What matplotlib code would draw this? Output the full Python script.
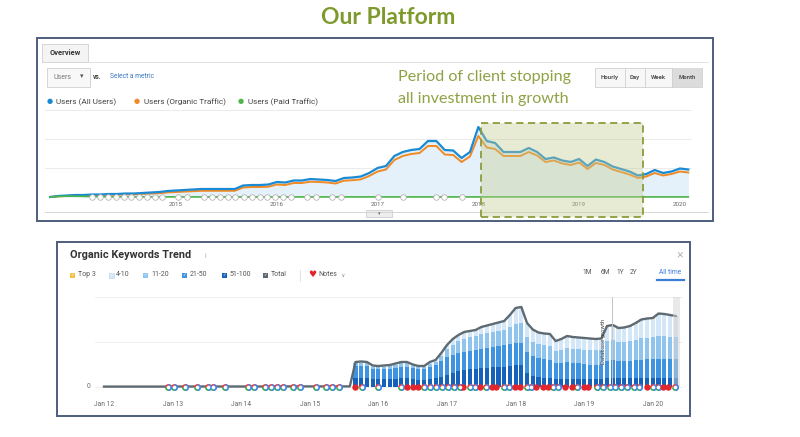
import numpy as np
import pandas as pd
import matplotlib
matplotlib.use("Agg")
import matplotlib.pyplot as plt
from matplotlib.patches import Rectangle
from matplotlib.lines import Line2D

plt.rcParams['font.family'] = ['Roboto', 'DejaVu Sans']

# ---------------- top panel: Google Analytics users (monthly) ----------------
ga_months = pd.date_range("2013-10-01", "2020-02-01", freq="MS")
users_all = [0, 100, 150,
             200, 200, 250, 250, 300, 300, 350, 350, 400, 450, 500, 600,
             650, 700, 750, 800, 800, 800, 800, 800, 1150, 1200, 1200, 1250,
             1500, 1450, 1650, 1650, 1800, 1750, 1700, 1600, 1900, 1950, 2050, 2400,
             2900, 3100, 4100, 4500, 4700, 4800, 5600, 5600, 4700, 4650, 3900, 4500,
             7000, 5600, 5400, 4500, 4500, 4500, 4900, 4500, 3800, 3950, 3650, 3500,
             3800, 3100, 3750, 3500, 3050, 2800, 2550, 2150, 2300, 2700, 2400, 2550,
             2850, 2750]
users_organic = [0, 70, 100,
                 130, 130, 180, 180, 220, 220, 260, 260, 300, 340, 380, 460,
                 500, 540, 580, 620, 620, 620, 620, 620, 950, 1000, 1000, 1030,
                 1250, 1200, 1400, 1400, 1530, 1500, 1450, 1350, 1630, 1680, 1760, 2100,
                 2550, 2750, 3700, 4100, 4300, 4400, 5100, 5100, 4250, 4200, 3500, 4050,
                 6100, 4950, 4800, 4100, 4100, 4100, 4500, 4150, 3500, 3650, 3350, 3200,
                 3450, 2800, 3400, 3200, 2750, 2500, 2250, 1900, 2050, 2400, 2150, 2300,
                 2550, 2450]
users_paid = [0, 60, 80,
              80, 60, 40, 20, 10, 10, 10, 10, 10, 10, 10, 10,
              10, 10, 10, 10, 10, 10, 10, 10, 10, 10, 10, 10,
              10, 10, 10, 10, 10, 10, 10, 10, 10, 10, 10, 10,
              10, 10, 10, 10, 10, 10, 10, 10, 10, 10, 10, 10,
              10, 10, 10, 10, 10, 10, 10, 10, 10, 10, 10, 10,
              10, 10, 10, 10, 10, 10, 10, 10, 10, 10, 10, 10,
              10, 10]
ga_annotations = [2014.17, 2014.25, 2014.33, 2014.40, 2014.48, 2014.55, 2014.63, 2014.71,
                  2014.79, 2014.86, 2015.02, 2015.11, 2015.28, 2015.36, 2015.44, 2015.52,
                  2015.59, 2015.67, 2015.75, 2015.83, 2015.90, 2015.98, 2016.06, 2016.14,
                  2016.30, 2016.39, 2016.55, 2016.64, 2017.00, 2017.25, 2017.58, 2017.66,
                  2017.84]
ga_years = [2015, 2016, 2017, 2018, 2019, 2020]
ga_labels = ["Users (All Users)", "Users (Organic Traffic)", "Users (Paid Traffic)"]
ga_colors = ['#1a8ad4', '#f08a24', '#4cb648']

# ---------------- bottom panel: SEMrush organic keywords ----------------
kw_flat_months = pd.date_range("2012-01-01", "2015-08-01", freq="MS")
kw_flat_total = [20, 20, 20, 20, 20, 20, 20, 20, 20, 20, 20, 20,
                 25, 25, 25, 25, 25, 25, 25, 25, 25, 25, 25, 25,
                 25, 25, 25, 25, 25, 25, 30, 30, 30, 30, 30, 30,
                 30, 30, 30, 30, 30, 30, 30, 30]
kw_months = pd.date_range("2015-09-01", "2020-05-01", freq="MS")
kw_51_100 = [450, 450, 450, 400, 400, 400, 400, 425, 450, 450, 400, 375, 375, 425, 450, 500,
             600, 700, 800, 850, 900, 900, 950, 975, 1000, 1000, 1025, 1050,
             1100, 1100, 700, 550, 500, 475, 450, 400, 400, 425, 425, 425,
             425, 425, 425, 425, 450, 450, 450, 450, 450, 450, 475, 475,
             475, 475, 475, 475, 475]
kw_21_50 = [600, 625, 600, 500, 500, 500, 525, 550, 575, 575, 550, 525, 525, 600, 650, 800,
            900, 900, 900, 900, 900, 950, 950, 975, 1000, 1050, 1075, 1100,
            1100, 1100, 1050, 1000, 950, 925, 925, 800, 825, 825, 800, 775,
            725, 700, 675, 700, 850, 900, 850, 850, 875, 900, 900, 925,
            925, 950, 950, 925, 925]
kw_11_20 = [150, 150, 150, 125, 100, 125, 125, 150, 175, 175, 125, 100, 100, 150, 175, 250,
            400, 500, 600, 650, 700, 700, 750, 750, 750, 750, 750, 850,
            950, 1000, 750, 700, 700, 700, 675, 600, 650, 700, 700, 700,
            725, 725, 750, 750, 1000, 1000, 950, 950, 975, 1025, 1075, 1075,
            1100, 1125, 1125, 1125, 1100]
kw_4_10 = [35, 35, 35, 35, 35, 35, 35, 35, 35, 35, 35, 35, 35, 60, 60, 135,
           185, 285, 285, 335, 285, 285, 335, 360, 385, 410, 435, 585,
           785, 785, 685, 610, 560, 560, 585, 485, 510, 585, 560, 560,
           560, 560, 535, 535, 710, 710, 660, 685, 710, 785, 885, 910,
           890, 1065, 1040, 1015, 990]
kw_top3 = [15, 15, 15, 15, 15, 15, 15, 15, 15, 15, 15, 15, 15, 15, 15, 15,
           15, 15, 15, 15, 15, 15, 15, 15, 15, 15, 15, 15,
           15, 15, 15, 15, 15, 15, 15, 15, 15, 15, 15, 15,
           15, 15, 15, 15, 40, 40, 40, 40, 40, 40, 40, 40,
           60, 60, 60, 60, 60]
kw_google_updates = [2012.93, 2013.02, 2013.18, 2013.35, 2013.51, 2013.59, 2013.76, 2014.10,
                     2014.18, 2014.35, 2014.44, 2014.52, 2014.61, 2014.76, 2014.85, 2015.09,
                     2015.24, 2015.33, 2015.42, 2015.76, 2016.00, 2016.33, 2016.67, 2016.75,
                     2016.84, 2016.93, 2017.02, 2017.10, 2017.19, 2017.33, 2017.41, 2017.57,
                     2017.83, 2017.90, 2018.16, 2018.23, 2018.55, 2018.62, 2018.90, 2019.19,
                     2019.28, 2019.37, 2019.45, 2019.54, 2019.63, 2019.72, 2019.80, 2020.00,
                     2020.08, 2020.32]
kw_notes = [2015.66, 2016.41, 2016.50, 2016.58, 2017.24, 2017.48, 2017.65, 2017.72, 2017.99,
            2018.06, 2018.30, 2018.40, 2018.47, 2018.72, 2018.82, 2018.99, 2019.06, 2019.91,
            2020.15, 2020.22]
kw_db_growth = 2019.40
kw_years = [2012, 2013, 2014, 2015, 2016, 2017, 2018, 2019, 2020]
kw_band_labels = ["Top 3", "4-10", "11-20", "21-50", "51-100", "Total"]
kw_band_colors = ['#f5c242', '#d3e7f8', '#8fc4ef', '#3f94e1', '#1662bb', '#5b6770']

W, H = 800, 437


def dec_year(idx):
    return np.asarray(idx.year + (idx.month - 1) / 12.0)


def px_rect(x0, y0, x1, y1):
    return [x0 / W, 1 - y1 / H, (x1 - x0) / W, (y1 - y0) / H]


fig = plt.figure(figsize=(8, 4.37), dpi=100)
fig.patch.set_facecolor('white')


def box(x0, y0, x1, y1, **kw):
    r = Rectangle((x0 / W, 1 - y1 / H), (x1 - x0) / W, (y1 - y0) / H,
                  transform=fig.transFigure, **kw)
    fig.patches.append(r)
    return r


def hline(x0, x1, y, **kw):
    fig.add_artist(Line2D([x0 / W, x1 / W], [1 - y / H, 1 - y / H], transform=fig.transFigure, **kw))


def vline(x, y0, y1, **kw):
    fig.add_artist(Line2D([x / W, x / W], [1 - y0 / H, 1 - y1 / H], transform=fig.transFigure, **kw))


def txt(x, y, s, **kw):
    kw.setdefault('va', 'center')
    fig.text(x / W, 1 - y / H, s, **kw)


txt(388, 18, "Our Platform", ha='center', fontsize=16.5, fontweight='bold',
    color='#7e9a2d', family=['Lato', 'DejaVu Sans'])

# ---------------- top panel chrome ----------------
box(37, 38, 713, 221, fill=False, ec='#4f5d7e', lw=1.4, zorder=6)
box(42, 44, 88, 62, fc='#f4f4f4', ec='#d0d0d0', lw=0.6)
txt(65, 53, "Overview", ha='center', fontsize=5.4, fontweight='bold', color='#333333')
hline(88, 708, 62, color='#dddddd', lw=0.6)
box(47, 68, 90, 87, fc='#f8f8f8', ec='#cfcfcf', lw=0.6)
txt(53, 77.5, "Users", fontsize=5, color='#777777')
txt(80, 77, "▾", fontsize=5, color='#555555')
txt(93, 77, "vs.", fontsize=4.8, fontweight='bold', color='#444444')
txt(110, 77, "Select a metric", fontsize=4.9, color='#3b78c4')
for (xd, xt), lab, col in zip([(50, 56), (137, 144), (241, 248)], ga_labels, ga_colors):
    txt(xd, 102, "●", ha='center', fontsize=5, color=col)
    txt(xt, 102, lab, fontsize=5.9, color='#444444')
box(595, 68, 702, 87, fc='#f7f7f7', ec='#cfcfcf', lw=0.6)
box(672, 68, 702, 87, fc='#dcdcdc', ec='none')
for xv in (625, 645, 672):
    vline(xv, 68, 87, color='#cfcfcf', lw=0.6)
for xc, lab in zip((610, 635, 658.5, 687), ("Hourly", "Day", "Week", "Month")):
    txt(xc, 77.5, lab, ha='center', fontsize=4.3, fontweight='bold', color='#555555')
txt(398, 77, "Period of client stopping", fontsize=11.6, color='#8ea244',
    family=['Lato', 'DejaVu Sans'])
txt(398, 98.5, "all investment in growth", fontsize=11.6, color='#8ea244',
    family=['Lato', 'DejaVu Sans'])

# ---------------- top chart ----------------
ga_x = dec_year(ga_months)
ax1 = fig.add_axes(px_rect(45, 105, 692, 212))
ax1.set_xlim(2013.70, 2020.12)
ax1.set_ylim(-1500, 9200)
for gy in (2900, 5800, 8700):
    ax1.axhline(gy, color='#e8e8e8', lw=0.6, zorder=0)
ax1.fill_between(ga_x, users_all, color='#e4f0fa', lw=0, zorder=1)
ax1.plot(ga_x, users_organic, color=ga_colors[1], lw=1.4, zorder=3)
ax1.plot(ga_x, users_all, color=ga_colors[0], lw=1.6, zorder=3)
ax1.plot(ga_x, users_paid, color=ga_colors[2], lw=1.2, zorder=3)
ax1.scatter(ga_annotations, np.zeros(len(ga_annotations)), s=16, facecolor='white',
            edgecolor='#b3b3b3', lw=0.6, zorder=4, clip_on=False)
for yr in ga_years:
    ax1.text(yr, -800, str(yr), ha='center', va='center', fontsize=4.5, color='#666666')
ax1.axis('off')
hline(45, 708, 212, color='#d0d0d0', lw=0.6)
box(366, 210, 392, 217, fc='#eeeeee', ec='#c8c8c8', lw=0.5)
txt(379, 213.5, "▾", ha='center', fontsize=3.5, color='#666666')

# highlighted period
box(481, 123, 643, 217, fc='#c4cd92', ec='none', alpha=0.4, zorder=2)
box(481, 123, 643, 217, fill=False, ec='#8c9c3c', lw=1.3, ls=(0, (4, 2.5)), zorder=3)

# ---------------- bottom panel chrome ----------------
box(57, 242, 690, 416, fill=False, ec='#4f5d7e', lw=1.4, zorder=6)
txt(70, 255, "Organic Keywords Trend", fontsize=7.8, fontweight='bold', color='#333333')
txt(205, 256.5, "i", fontsize=5, color='#aaaaaa')
legend_pos = [(70, 78), (109, 116), (143, 151), (182, 190), (222, 229), (263, 271)]
for (xb, xt), lab, col in zip(legend_pos, kw_band_labels, kw_band_colors):
    box(xb, 272.5, xb + 5, 277.5, fc=col, ec='#b8cfe4' if lab == "4-10" else 'none', lw=0.4)
    txt(xb + 2.5, 275, "✓", ha='center', fontsize=3.2, color='white', family=['DejaVu Sans'])
    txt(xt, 275, lab, fontsize=5, color='#555555')
vline(300, 270, 281, color='#dddddd', lw=0.6)
txt(312, 274.5, "♥", ha='center', fontsize=6.5, color='#e0262b', family=['DejaVu Sans'])
txt(318, 275, "Notes", fontsize=5, color='#555555')
txt(342, 275.5, "v", fontsize=4, color='#777777')
for xc, lab in zip((587, 605, 620, 634), ("1M", "6M", "1Y", "2Y")):
    txt(xc, 272, lab, ha='center', fontsize=4.8, color='#555555')
txt(670, 272, "All time", ha='center', fontsize=4.8, color='#3a7fd5')
hline(657, 684, 280, color='#3a7fd5', lw=1.6)
txt(680, 255, "×", ha='center', fontsize=9, color='#bbbbbb')

# ---------------- bottom chart ----------------
kw_x = dec_year(kw_months)
flat_x = dec_year(kw_flat_months)
ax2 = fig.add_axes(px_rect(95, 290, 683, 395))
ax2.set_xlim(2011.869, 2020.44)
ax2.set_ylim(-400, 4850)
for gy in (0, 2250, 4500):
    ax2.axhline(gy, color='#ececec', lw=0.6, zorder=0)

bands = [kw_51_100, kw_21_50, kw_11_20, kw_4_10, kw_top3]
band_cols = [kw_band_colors[4], kw_band_colors[3], kw_band_colors[2],
             kw_band_colors[1], kw_band_colors[0]]
bottom = np.zeros(len(kw_x))
for vals, col in zip(bands, band_cols):
    ax2.bar(kw_x, vals, bottom=bottom, width=0.72 / 12, color=col, lw=0, zorder=2)
    bottom = bottom + np.asarray(vals)
total_x = np.concatenate([flat_x, kw_x])
total_y = np.concatenate([kw_flat_total, bottom])
ax2.plot(total_x, total_y, color='#5e6a72', lw=1.7, zorder=3)

ax2.axvline(kw_db_growth, ymin=400 / 5250, ymax=4900 / 5250, color='#c4c4c4', lw=0.7, zorder=4)
ax2.text(kw_db_growth - 0.12, 2300, "Database growth", rotation=90, ha='center', va='center',
         fontsize=4.3, color='#4a4a4a', zorder=5)
ax2.axvspan(kw_x[-1] - 0.5 / 12, kw_x[-1] + 0.7 / 12, ymin=400 / 5250, ymax=4900 / 5250,
            color='#d5d5d5', alpha=0.5, lw=0, zorder=4)

g0 = np.zeros(len(kw_google_updates))
ax2.plot(kw_google_updates, g0, 'o', ms=5, fillstyle='top', mfc='#ea4335',
         mfcalt='#34a853', mec='none', clip_on=False, zorder=6)
ax2.plot(kw_google_updates, g0, 'o', ms=5, fillstyle='right', mfc='#4285f4',
         mec='none', clip_on=False, zorder=6)
ax2.plot(kw_google_updates, g0, 'o', ms=2.6, mfc='white', mec='none', clip_on=False, zorder=7)
ax2.plot(kw_notes, np.zeros(len(kw_notes)), 'o', ms=4.6, mfc='#e3262b', mec='none',
         clip_on=False, zorder=6)

for yr in kw_years:
    ax2.text(yr, -850, "Jan %02d" % (yr % 100), ha='center', va='center',
             fontsize=4.8, color='#666666', clip_on=False)
ax2.text(2011.80, 0, "0", ha='right', va='center', fontsize=4.8, color='#666666')
ax2.axis('off')

fig.savefig("out.png", dpi=100, facecolor='white')
